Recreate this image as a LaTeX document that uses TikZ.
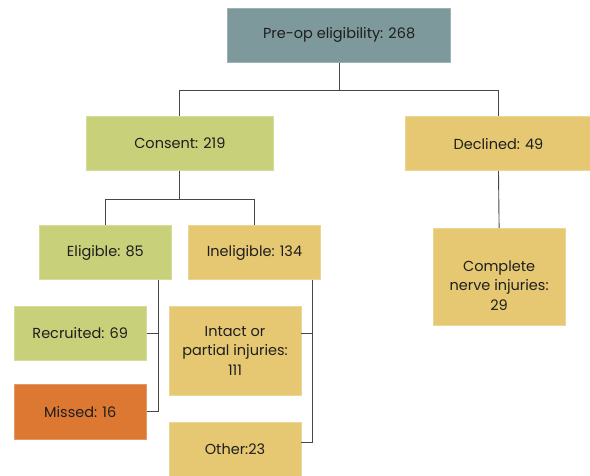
\documentclass[tikz,border=0pt]{standalone}
\usepackage{fontspec}
\setmainfont{Poppins}
\usepackage{tikz}
\usetikzlibrary{positioning}
\definecolor{preteal}{RGB}{126, 153, 155}
\definecolor{okgreen}{RGB}{201, 208, 122}
\definecolor{nosand}{RGB}{230, 200, 115}
\definecolor{missorange}{RGB}{220, 120, 50}
\definecolor{linkgray}{RGB}{70, 70, 70}
\definecolor{txtdark}{RGB}{30, 30, 30}
\tikzset{
    stagebox/.style={draw=#1!75!white, line width=0.6pt, fill=#1, align=center,
        inner sep=2pt, text=txtdark, font=\fontsize{14.5}{19.5}\selectfont},
    link/.style={draw=linkgray, line width=0.9pt}
}

\begin{document}
\begin{tikzpicture}[x=1pt, y=-1pt]
        \useasboundingbox (0,0) rectangle (590,476);
        % Top node
        \node[stagebox=preteal, minimum width=222.8pt, minimum height=54pt] (preop) at (339.1,35.3) {Pre-op eligibility: 268};
        
        % Second row
        \node[stagebox=okgreen, minimum width=186.6pt, minimum height=54pt] (consent) at (179.9,143.7) {Consent: 219};
        \node[stagebox=nosand, minimum width=187pt, minimum height=54pt] (declined) at (498.5,143.7) {Declined: 49};
        
        % Third row
        \node[stagebox=okgreen, minimum width=131.7pt, minimum height=53.6pt] (eligible) at (105.4,252.5) {Eligible: 85};
        \node[stagebox=nosand, minimum width=132.5pt, minimum height=53.6pt] (ineligible) at (254.5,252.5) {Ineligible: 134};
        \node[stagebox=nosand, minimum width=131.8pt, minimum height=96.7pt] (complete) at (499.1,276.7) {\rule{0pt}{28.5pt}Complete\\nerve injuries:\\29};
        
        % Bottom rows
        \node[stagebox=okgreen, minimum width=132.5pt, minimum height=54pt] (recruited) at (80.2,333) {Recruited: 69};
        \node[stagebox=missorange, minimum width=132.5pt, minimum height=54.7pt] (missed) at (80.2,411.7) {Missed: 16};
        \node[stagebox=nosand, minimum width=132pt, minimum height=89.7pt] (intact) at (235,350.8) {Intact or\\partial injuries:\\111};
        \node[stagebox=nosand, minimum width=132pt, minimum height=54pt] (other) at (235,449.3) {Other:23};
        
        % Side spines
        \coordinate (spineE) at (158.8,0);
        \coordinate (spineI) at (312.8,0);
        
        % Connectors
        \draw[link] (preop.south) -- ++(0,27.7) -| (consent.north);
        \draw[link] (preop.south) -- ++(0,27.7) -| (declined.north);
        \draw[link] (consent.south) -- ++(0,28.6) -| (eligible.north);
        \draw[link] (consent.south) -- ++(0,28.6) -| (ineligible.north);
        \draw[link] (declined.south) -- (complete.north);
        \draw[link] (eligible.south -| spineE) |- (missed.east);
        \draw[link] (recruited.east) -- (recruited.east -| spineE);
        \draw[link] (ineligible.south -| spineI) |- (other.east |- 0,442.7);
        \draw[link] (intact.east |- 0,333.7) -- (spineI |- 0,333.7);
    \end{tikzpicture}
\end{document}
